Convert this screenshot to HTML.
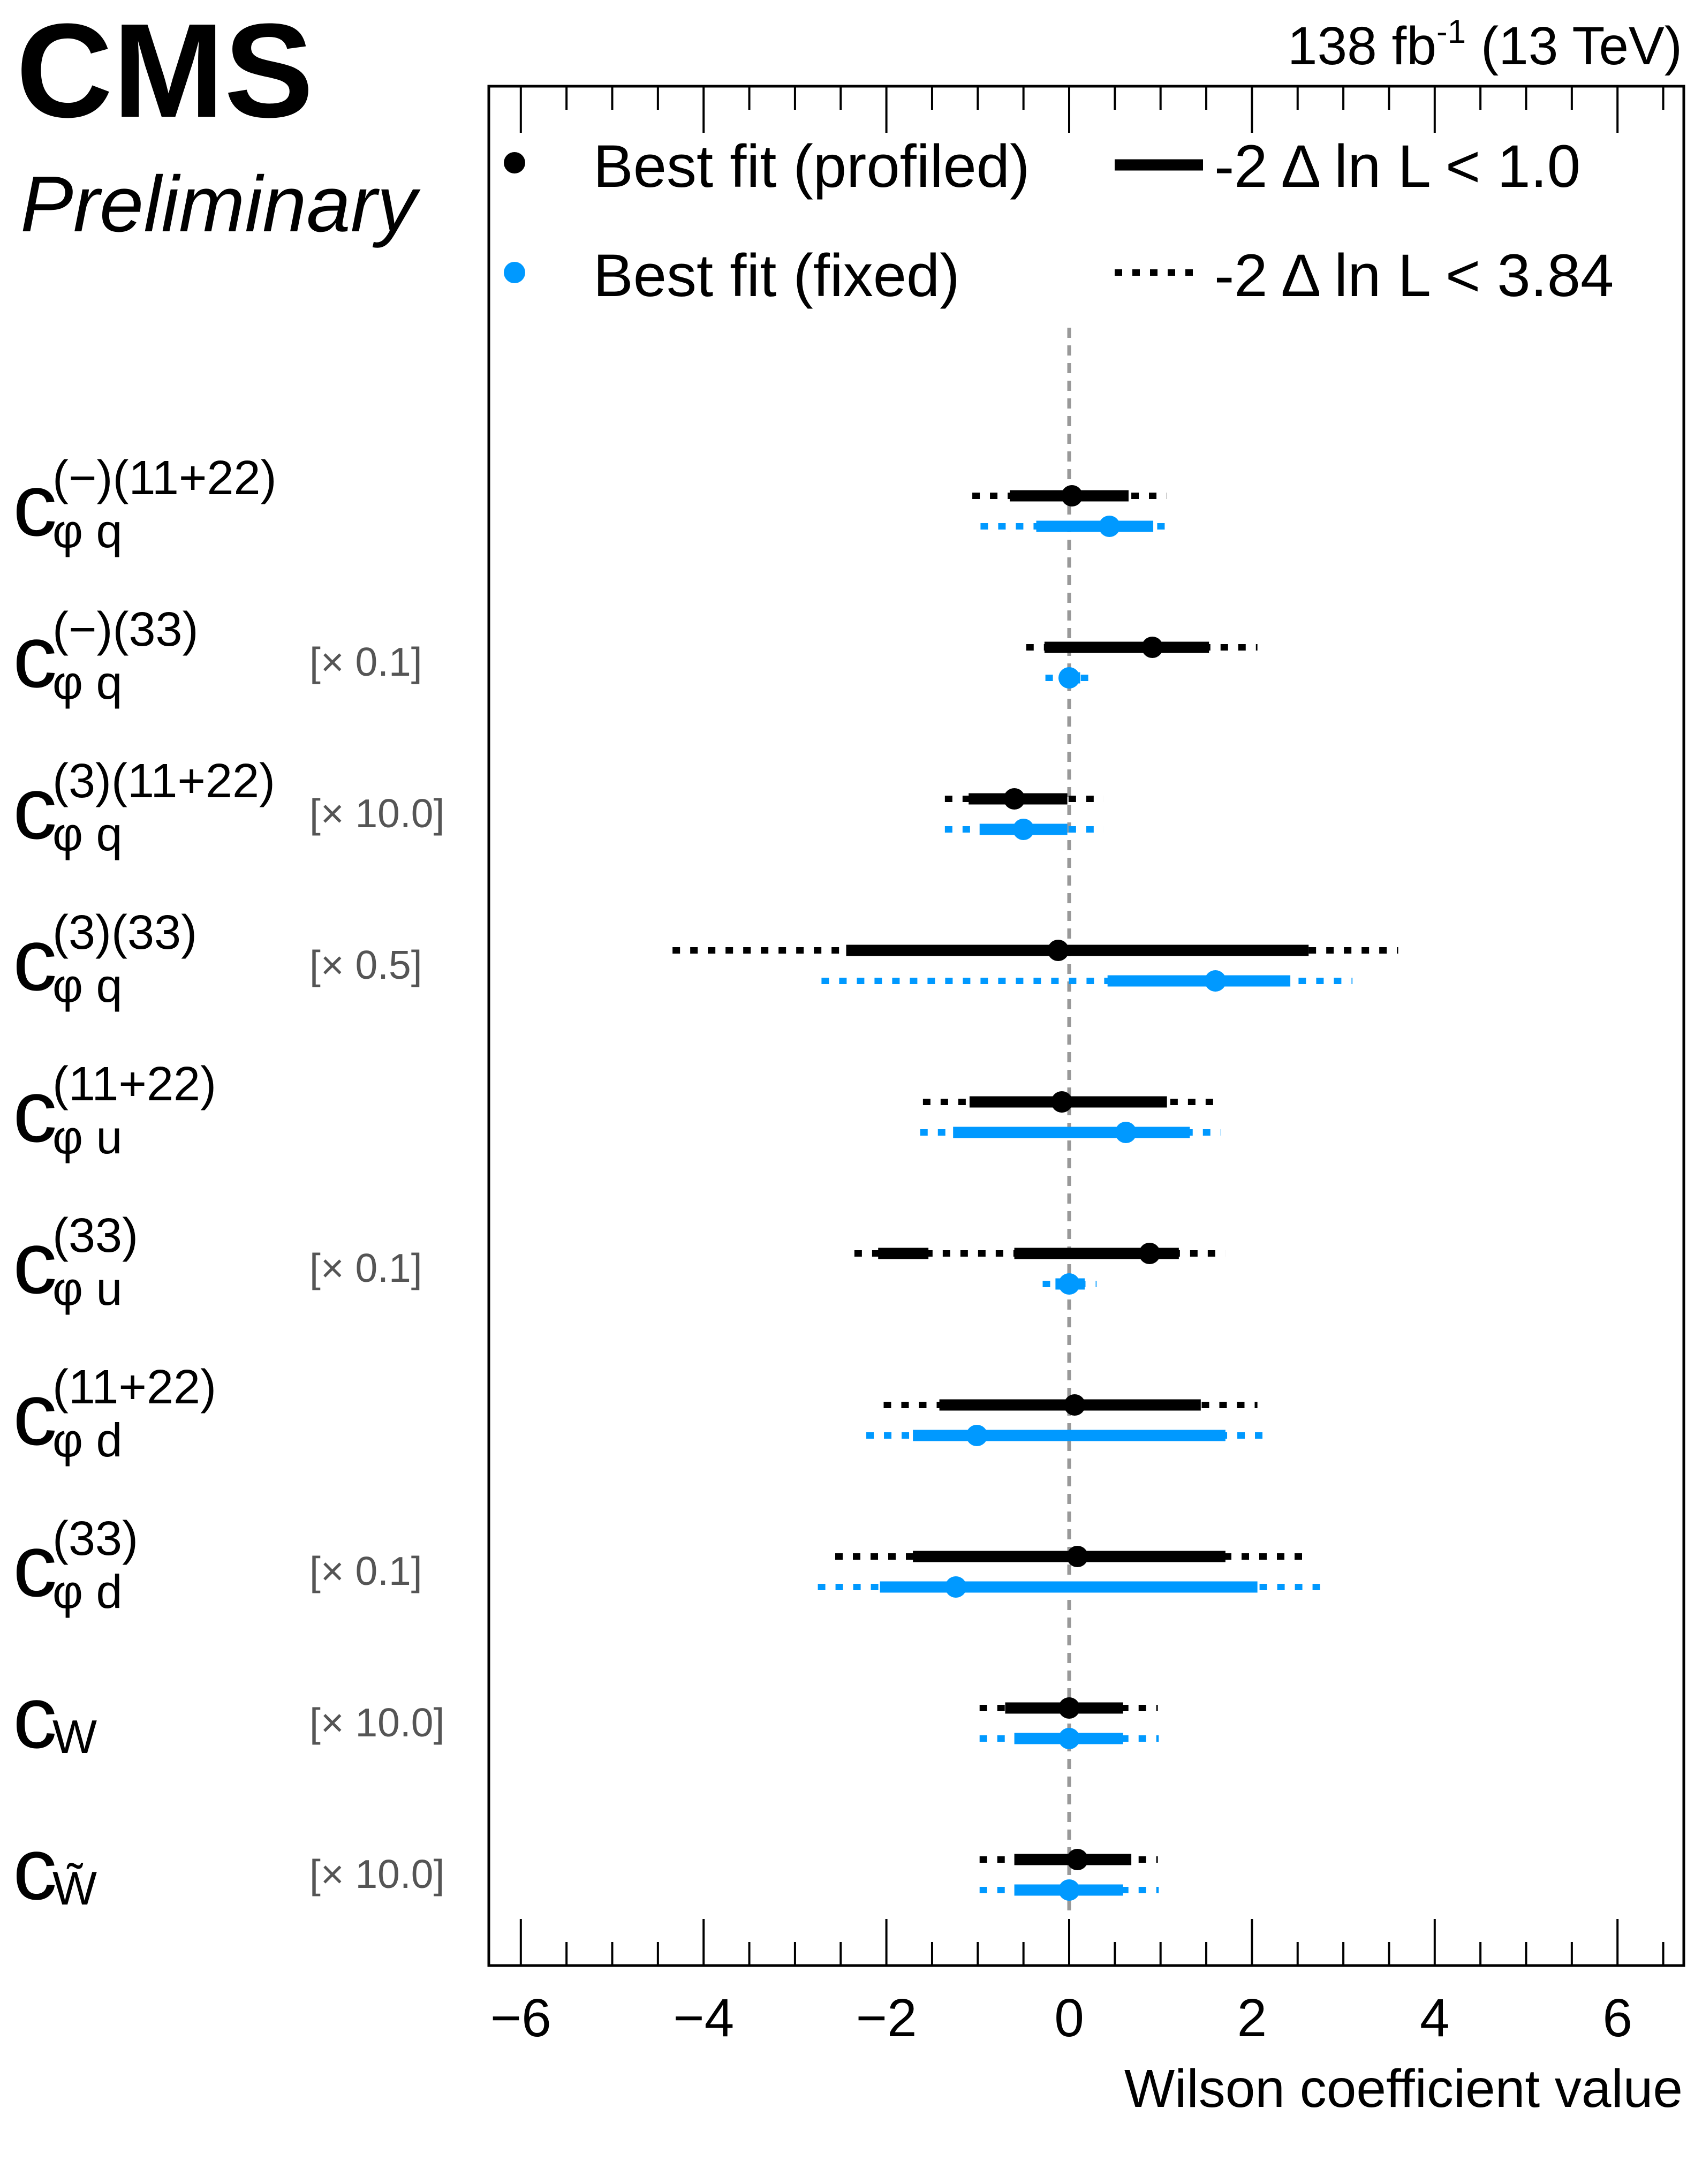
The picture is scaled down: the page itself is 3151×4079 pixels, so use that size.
<!DOCTYPE html>
<html><head><meta charset="utf-8"><style>
html,body{margin:0;padding:0;background:#fff}
svg{display:block}
text{font-family:"Liberation Sans",sans-serif}
</style></head><body>
<svg id="chart" width="3151" height="4079" viewBox="0 0 3151 4079" xmlns="http://www.w3.org/2000/svg">
<rect width="3151" height="4079" fill="#fff"/>
<text x="30" y="218" font-size="250" font-weight="bold">CMS</text>
<text x="38" y="432" font-size="148" font-style="italic">Preliminary</text>
<text x="3142" y="120" font-size="100" text-anchor="end">138 fb<tspan dy="-40" font-size="62">-1</tspan><tspan dy="40"> (13 TeV)</tspan></text>
<rect x="913" y="161" width="2232" height="3510" fill="none" stroke="#000" stroke-width="5"/>
<line x1="1997" y1="612" x2="1997" y2="3575" stroke="#999" stroke-width="7" stroke-dasharray="19 14"/>
<g id="ticks"></g>
<g id="marks"></g>
<g id="labels"></g>
<g>
<circle cx="961" cy="304" r="20" fill="#000"/>
<text x="1108" y="349" font-size="112">Best fit (profiled)</text>
<circle cx="961" cy="509" r="20" fill="#0099ff"/>
<text x="1108" y="553" font-size="112">Best fit (fixed)</text>
<line x1="2082" y1="308" x2="2247" y2="308" stroke="#000" stroke-width="21"/>
<text x="2268" y="349" font-size="112">-2 Δ ln L &lt; 1.0</text>
<line x1="2082" y1="509" x2="2247" y2="509" stroke="#000" stroke-width="12" stroke-dasharray="14 19"/>
<text x="2268" y="553" font-size="112">-2 Δ ln L &lt; 3.84</text>
</g>
<text x="3143" y="3935" font-size="100" text-anchor="end">Wilson coefficient value</text>
</svg>
<script>
var NS="http://www.w3.org/2000/svg";
var categories=["cphiq_m_1122","cphiq_m_33","cphiq3_1122","cphiq3_33","cphiu_1122","cphiu_33","cphid_1122","cphid_33","cW","cWtil"];
var supLabels=["(−)(11+22)","(−)(33)","(3)(11+22)","(3)(33)","(11+22)","(33)","(11+22)","(33)","",""];
var subLabels=["φ q","φ q","φ q","φ q","φ u","φ u","φ d","φ d","W","W̃"];
var scaleLabels=["","[× 0.1]","[× 10.0]","[× 0.5]","","[× 0.1]","","[× 0.1]","[× 10.0]","[× 10.0]"];
var profBest=[0.03,0.91,-0.6,-0.12,-0.08,0.88,0.06,0.09,0.0,0.09];
var prof1Lo=[-0.65,-0.27,-1.1,-2.44,-1.09,-0.6,-1.42,-1.71,-0.7,-0.6];
var prof1Hi=[0.65,1.53,-0.02,2.62,1.07,1.2,1.44,1.71,0.59,0.68];
var prof2Lo=[-1.06,-0.47,-1.36,-4.34,-1.6,-2.35,-2.03,-2.56,-0.98,-0.98];
var prof2Hi=[1.07,2.06,0.38,3.6,1.6,1.71,2.06,2.56,0.97,0.97];
var fixBest=[0.44,0.0,-0.5,1.6,0.62,0.0,-1.01,-1.24,0.0,0.0];
var fix1Lo=[-0.36,-0.1,-0.98,0.42,-1.27,-0.15,-1.71,-2.07,-0.6,-0.6];
var fix1Hi=[0.92,0.12,-0.02,2.42,1.32,0.17,1.71,2.06,0.59,0.59];
var fix2Lo=[-0.97,-0.26,-1.36,-2.71,-1.63,-0.29,-2.22,-2.75,-0.98,-0.98];
var fix2Hi=[1.15,0.24,0.38,3.1,1.66,0.3,2.22,2.75,0.98,0.98];
var extraProf1Lo=[null,null,null,null,null,-2.09,null,null,null,null];
var extraProf1Hi=[null,null,null,null,null,-1.54,null,null,null,null];
var xTicks=[-6,-4,-2,0,2,4,6];

function xs(v){return 1997+v*170.7;}
function ys(i){return 926+i*283;}
function mk(tag,attrs,parent){var e=document.createElementNS(NS,tag);for(var k in attrs)e.setAttribute(k,attrs[k]);parent.appendChild(e);return e;}

var tg=document.getElementById('ticks');
for(var t=-6;t<=6.51;t+=0.5){
  var major=Math.abs(t-Math.round(t/2)*2)<1e-6;
  var len=major?87:44;
  var a=mk('line',{x1:xs(t),x2:xs(t),y1:3671,y2:3671-len,stroke:'#000','stroke-width':4},tg);
  
  
  var b=mk('line',{x1:xs(t),x2:xs(t),y1:161,y2:161+len,stroke:'#000','stroke-width':4},tg);
  
  
}
xTicks.forEach(function(v){
  var tx=mk('text',{x:xs(v),y:3803,'font-size':100,'text-anchor':'middle'},tg);
  tx.textContent=(v<0?'−':'')+Math.abs(v);
  
  
});

var mg=document.getElementById('marks');
function seg(lo,hi,y,color,thick,name){
  var l=mk('line',{x1:xs(lo),x2:xs(hi),y1:y,y2:y,stroke:color,'stroke-width':thick?21:12},mg);
  if(!thick)l.setAttribute('stroke-dasharray','14 19');
  
  
}
categories.forEach(function(c,i){
  var y=ys(i), yb=y+57;
  seg(prof2Lo[i],prof2Hi[i],y,'#000',false,'profiled-2sigma-'+c);
  seg(prof1Lo[i],prof1Hi[i],y,'#000',true,'profiled-1sigma-'+c);
  if(extraProf1Lo[i]!==null)seg(extraProf1Lo[i],extraProf1Hi[i],y,'#000',true,'profiled-1sigma-extra-'+c);
  var p=mk('circle',{cx:xs(profBest[i]),cy:y,r:20,fill:'#000'},mg);
  
  
  seg(fix2Lo[i],fix2Hi[i],yb,'#0099ff',false,'fixed-2sigma-'+c);
  seg(fix1Lo[i],fix1Hi[i],yb,'#0099ff',true,'fixed-1sigma-'+c);
  var q=mk('circle',{cx:xs(fixBest[i]),cy:yb,r:20,fill:'#0099ff'},mg);
  
  
});

var lg=document.getElementById('labels');
categories.forEach(function(c,i){
  var y=ys(i);
  var g=mk('g',{},lg);
  
  
  var t1=mk('text',{x:24,y:y+74,'font-size':165},g);t1.textContent='c';
  if(supLabels[i]){var t2=mk('text',{x:98,y:y-3,'font-size':90},g);t2.textContent=supLabels[i];}
  var sy=supLabels[i]?y+96:y+84;
  var t3=mk('text',{x:98,y:sy,'font-size':88},g);t3.textContent=subLabels[i];
  if(scaleLabels[i]){
    var t4=mk('text',{x:578,y:y+53,'font-size':75,fill:'#555'},lg);t4.textContent=scaleLabels[i];
    
    
  }
});
</script>
</body></html>
